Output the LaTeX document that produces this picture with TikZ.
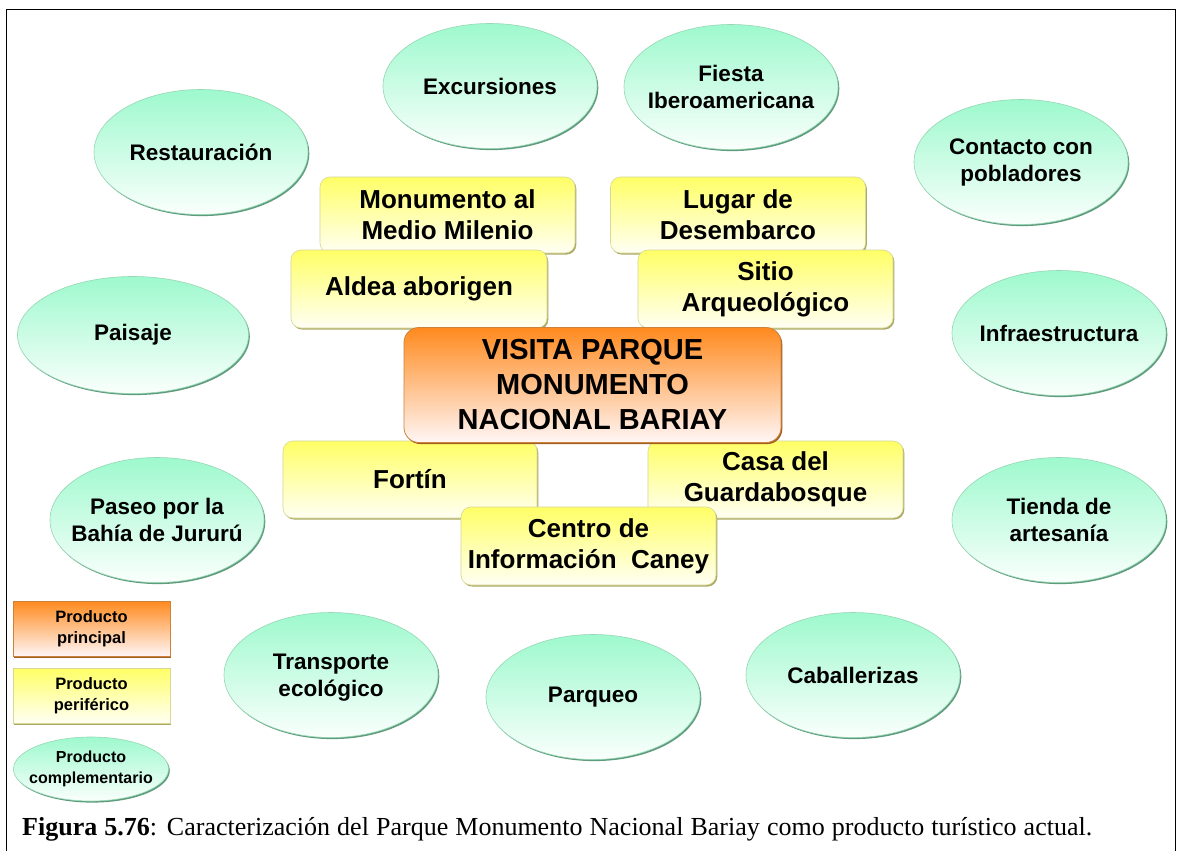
\documentclass[tikz,border=0pt]{standalone}
\usepackage{fontspec}
\setmainfont{Liberation Serif}
\newfontfamily\arialf{Liberation Sans}
\usetikzlibrary{shapes.geometric,shadows}
\definecolor{mint}{RGB}{158,249,206}
\definecolor{mintbot}{RGB}{250,255,252}
\definecolor{mintedge}{RGB}{150,215,180}
\definecolor{mintshadow}{RGB}{95,155,125}
\definecolor{yel}{RGB}{255,255,102}
\definecolor{yelbot}{RGB}{255,255,244}
\definecolor{yeledge}{RGB}{215,215,150}
\definecolor{yelshadow}{RGB}{170,170,100}
\definecolor{ora}{RGB}{255,138,30}
\definecolor{orabot}{RGB}{255,246,246}
\definecolor{oraedge}{RGB}{205,130,60}
\definecolor{orashadow}{RGB}{160,95,35}
\tikzset{
  ell/.style={ellipse, minimum width=214pt, minimum height=125pt, inner sep=0pt,
    top color=mint, bottom color=mintbot, draw=mintedge, line width=0.6pt,
    copy shadow={shadow xshift=1.3pt, shadow yshift=-1.6pt, fill=mintshadow, draw=none}},
  elltext/.style={inner sep=0pt, font=\arialf\bfseries\fontsize{22.5}{27}\selectfont, align=center},
  ybox/.style={rectangle, rounded corners=10pt, minimum width=255pt, minimum height=76pt, inner sep=0pt,
    top color=yel, bottom color=yelbot, draw=yeledge, line width=0.6pt,
    copy shadow={shadow xshift=1.3pt, shadow yshift=-1.6pt, fill=yelshadow, draw=none},
    font=\arialf\bfseries\fontsize{26}{31}\selectfont, align=center},
  mainbox/.style={rectangle, rounded corners=15pt, minimum width=377pt, minimum height=115pt, inner sep=0pt,
    top color=ora, bottom color=orabot, draw=oraedge, line width=0.8pt,
    copy shadow={shadow xshift=1.3pt, shadow yshift=-1.6pt, fill=orashadow, draw=none},
    font=\arialf\bfseries\fontsize{29}{35}\selectfont, align=center},
  legbox/.style={rectangle, minimum width=157pt, minimum height=55pt, inner sep=0pt,
    line width=0.5pt, font=\arialf\bfseries\fontsize{16.5}{20.5}\selectfont, align=center},
  frameline/.style={line width=1.8pt, black}
}
\begin{document}
\begin{tikzpicture}[x=1pt,y=-1pt]
\useasboundingbox (0,0) rectangle (1178,851);
\fill[white] (0,0) rectangle (1178,851);
% frame
\coordinate (fbl) at (6.5,852);
\coordinate (ftl) at (6.5,9.5);
\coordinate (ftr) at (1175.5,9.5);
\coordinate (fbr) at (1175.5,852);
\draw[frameline] (fbl) -- (ftl) -- (ftr) -- (fbr);

% complementary products (ellipses)
\node[ell] (rest) at (201,152) {};
\node[elltext] (restt) at (rest) {Restauraci\'on};
\node[ell] (exc) at (490,86) {};
\node[elltext] (exct) at (exc) {Excursiones};
\node[ell] (fies) at (731,87) {};
\node[elltext] (fiest) at (fies) {Fiesta\\Iberoamericana};
\node[ell] (cont) at (1021,162) {};
\node[elltext] (contt) at (cont) {Contacto con\\pobladores};
\node[ell, minimum width=231pt, minimum height=117pt] (pais) at (133,335) {};
\node[elltext] (paist) at (pais) {Paisaje};
\node[ell] (infra) at (1059,333) {};
\node[elltext] (infrat) at (infra) {Infraestructura};
\node[ell] (paseo) at (157,520) {};
\node[elltext] (paseot) at (paseo) {Paseo por la\\Bah\'ia de Jurur\'u};
\node[ell] (tienda) at (1059,520) {};
\node[elltext] (tiendat) at (tienda) {Tienda de\\artesan\'ia};
\node[ell] (transp) at (331,675) {};
\node[elltext] (transpt) at ([yshift=-3pt]transp.center) {Transporte\\ecol\'ogico};
\node[ell] (parq) at (593,697) {};
\node[elltext] (parqt) at (parq) {Parqueo};
\node[ell] (caba) at (853,675) {};
\node[elltext] (cabat) at (caba) {Caballerizas};

% peripheral products
\node[ybox] (monu) at (447.5,215) {Monumento al\\Medio Milenio};
\node[ybox] (lugar) at (738,215) {Lugar de\\Desembarco};
\node[ybox, minimum width=256pt, minimum height=78pt] (aldea) at (419,289) {Aldea aborigen};
\node[ybox, minimum height=78pt] (sitio) at (765.5,289) {Sitio\\Arqueol\'ogico};
\node[ybox, minimum width=254pt, minimum height=77pt] (fortin) at (410,479.5) {Fort\'in};
\node[ybox, minimum height=77pt] (casa) at (775.5,479.5) {Casa del\\Guardabosque};
\node[ybox, minimum height=78pt] (centro) at (588.5,546) {Centro de\\Informaci\'on\ \ Caney};

% main product
\node[mainbox] (main) at (592.5,385) {VISITA PARQUE\\MONUMENTO\\NACIONAL BARIAY};

% legend
\node[legbox, top color=ora, bottom color=orabot, draw=oraedge,
  copy shadow={shadow xshift=1.3pt, shadow yshift=-1.6pt, fill=orashadow, draw=none}]
  (lprin) at (91.5,628.5) {Producto\\principal};
\node[legbox, top color=yel, bottom color=yelbot, draw=yeledge,
  copy shadow={shadow xshift=1.3pt, shadow yshift=-1.6pt, fill=yelshadow, draw=none}]
  (lperi) at (91.5,695.5) {Producto\\perif\'erico};
\node[ell, minimum width=155pt, minimum height=64pt] (lcomp) at (91,769) {};
\node[elltext, font=\arialf\bfseries\fontsize{16}{20.5}\selectfont] (lcompt) at (lcomp) {Producto\\complementario};

% caption
\node[anchor=base west, inner sep=0pt, font=\fontsize{26}{30}\selectfont] (cap) at (22,835)
  {\makebox[1070pt][s]{\textbf{Figura 5.76}: Caracterizaci\'on del Parque Monumento Nacional Bariay como producto tur\'istico actual.}};
\end{tikzpicture}
\end{document}
